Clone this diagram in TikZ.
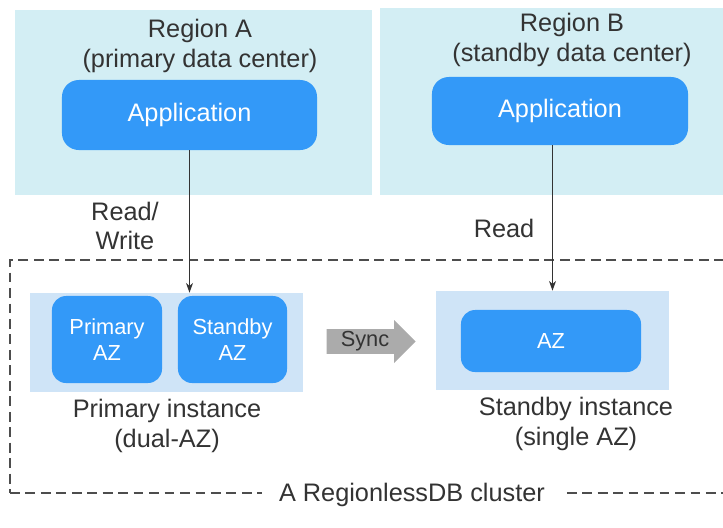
\documentclass[tikz,border=0pt]{standalone}
\usepackage{fontspec}
\setmainfont{Liberation Sans}
\usetikzlibrary{shapes.arrows, arrows.meta, positioning}
\definecolor{regionbg}{HTML}{D3EEF4}
\definecolor{instbg}{HTML}{CFE4F7}
\definecolor{appblue}{HTML}{3399F8}
\definecolor{syncgray}{HTML}{ABABAB}
\definecolor{linegray}{HTML}{333333}
\definecolor{dashgray}{HTML}{4D4D4D}

\begin{document}
\begin{tikzpicture}[
  x=0.025cm, y=-0.025cm,
  every node/.style={font=\fontsize{18}{21}\selectfont, text=linegray},
  region/.style={rectangle, fill=regionbg, inner sep=0pt},
  app/.style={rectangle, rounded corners=12pt, fill=appblue, inner sep=0pt, text=white},
  inst/.style={rectangle, fill=instbg, inner sep=0pt},
  azbox/.style={rectangle, rounded corners=10pt, fill=appblue, inner sep=0pt, text=white, align=center, font=\fontsize{15.5}{19}\selectfont},
  caption/.style={align=center},
  arrowline/.style={-{Stealth[length=7pt, width=5pt]}, line width=0.7pt, draw=linegray},
  cluster/.style={rectangle, draw=dashgray, line width=1pt, dash pattern=on 7pt off 4pt, inner sep=0pt}
]
\useasboundingbox (0,0) rectangle (723,527);

% Regions
\node[region, minimum width=8.925cm, minimum height=4.625cm] (regA) at (193.5,102.5) {};
\node[region, minimum width=8.6cm, minimum height=4.675cm] (regB) at (552,101.5) {};
\node[caption] (titleA) at (200,46) {Region A\\(primary data center)};
\node[caption] (titleB) at (572,40) {Region B\\(standby data center)};

% Applications
\node[app, minimum width=6.375cm, minimum height=1.75cm] (appA) at (189.5,115) {Application};
\node[app, minimum width=6.4cm, minimum height=1.7cm] (appB) at (560,111) {Application};

% Cluster frame
\node[cluster, minimum width=18cm, minimum height=5.825cm] (cluster) at (370,376.5) {};
\node[fill=white, inner xsep=12pt, inner ysep=3pt] (clusterlbl) at (412,495) {A RegionlessDB cluster};

% Primary instance
\node[inst, minimum width=6.825cm, minimum height=2.475cm] (primInst) at (166.5,342.5) {};
\node[azbox, minimum width=2.75cm, minimum height=2.175cm] (primAZ) at (107,339.5) {Primary\\AZ};
\node[azbox, minimum width=2.725cm, minimum height=2.175cm] (sbAZ) at (232.5,339.5) {Standby\\AZ};
\node[caption] (primLbl) at (167,426) {Primary instance\\(dual-AZ)};

% Sync
\node[single arrow, fill=syncgray, inner sep=0pt, minimum height=2.225cm, minimum width=1.075cm,
  single arrow head extend=0.19cm, font=\fontsize{15.5}{19}\selectfont] (sync) at (365,341.5) {Sync\hspace{4pt}};

% Standby instance
\node[inst, minimum width=5.825cm, minimum height=2.475cm] (sbInst) at (552.5,340.5) {};
\node[azbox, minimum width=4.5cm, minimum height=1.55cm] (az) at (551,341) {AZ};
\node[caption] (sbLbl) at (576,424) {Standby instance\\(single AZ)};

% Access
\draw[arrowline] (appA.south) -- (appA.south |- primInst.north);
\draw[arrowline] (appB.south -| sbInst.north) -- (sbInst.north);
\node[caption] (rwLbl) at (125,226) {Read/\\Write};
\node (rLbl) at (504,228) {Read};

\end{tikzpicture}
\end{document}
